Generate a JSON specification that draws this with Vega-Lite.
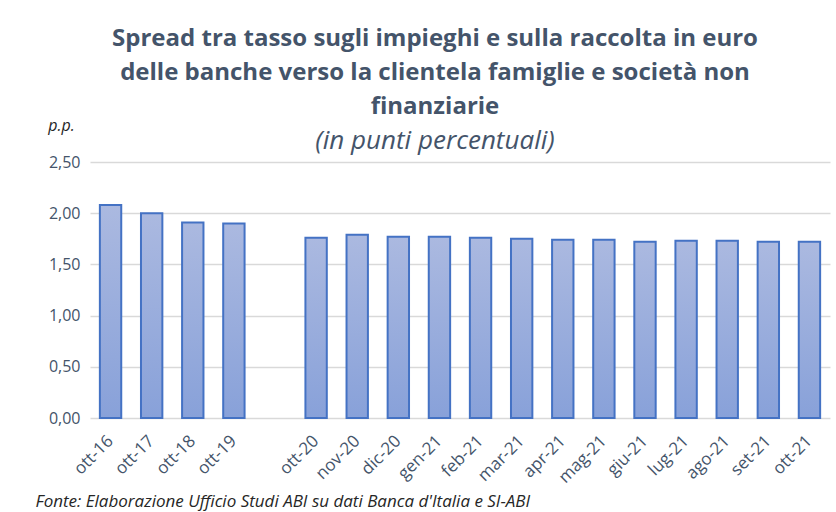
{
  "$schema": "https://vega.github.io/schema/vega-lite/v6.json",
  "width": 740,
  "height": 256,
  "autosize": {"type": "none"},
  "padding": {"left": 90, "top": 162, "right": 6, "bottom": 94},
  "background": "white",
  "config": {
    "locale": {"number": {"decimal": ",", "thousands": ".", "grouping": [3], "currency": ["€", ""]}},
    "view": {"stroke": null},
    "font": "Open Sans"
  },
  "title": {
    "text": ["Spread tra tasso sugli impieghi e sulla raccolta in euro", "delle banche verso la clientela famiglie e società non", "finanziarie"],
    "subtitle": "(in punti percentuali)",
    "anchor": "middle",
    "dx": -25,
    "font": "Open Sans",
    "fontSize": 24,
    "fontWeight": "bold",
    "color": "#44546a",
    "lineHeight": 34,
    "subtitleFont": "Open Sans",
    "subtitleFontSize": 26,
    "subtitleFontStyle": "italic",
    "subtitleColor": "#44546a",
    "subtitlePadding": 9,
    "offset": -37
  },
  "data": {
    "values": [
      {"mese": "ott-16", "valore": 2.08},
      {"mese": "ott-17", "valore": 2.00},
      {"mese": "ott-18", "valore": 1.91},
      {"mese": "ott-19", "valore": 1.90},
      {"mese": "ott-20", "valore": 1.76},
      {"mese": "nov-20", "valore": 1.79},
      {"mese": "dic-20", "valore": 1.77},
      {"mese": "gen-21", "valore": 1.77},
      {"mese": "feb-21", "valore": 1.76},
      {"mese": "mar-21", "valore": 1.75},
      {"mese": "apr-21", "valore": 1.74},
      {"mese": "mag-21", "valore": 1.74},
      {"mese": "giu-21", "valore": 1.72},
      {"mese": "lug-21", "valore": 1.73},
      {"mese": "ago-21", "valore": 1.73},
      {"mese": "set-21", "valore": 1.72},
      {"mese": "ott-21", "valore": 1.72}
    ]
  },
  "mark": {
    "type": "bar",
    "stroke": "#4472c4",
    "strokeWidth": 2,
    "color": {
      "gradient": "linear",
      "x1": 0, "y1": 0, "x2": 0, "y2": 1,
      "stops": [
        {"offset": 0, "color": "#abb9e0"},
        {"offset": 1, "color": "#88a1d9"}
      ]
    }
  },
  "encoding": {
    "x": {
      "field": "mese",
      "type": "nominal",
      "scale": {
        "domain": ["ott-16", "ott-17", "ott-18", "ott-19", "", "ott-20", "nov-20", "dic-20", "gen-21", "feb-21", "mar-21", "apr-21", "mag-21", "giu-21", "lug-21", "ago-21", "set-21", "ott-21"],
        "paddingInner": 0.48,
        "paddingOuter": 0.24
      },
      "axis": {
        "title": "Fonte: Elaborazione Ufficio Studi ABI su dati Banca d'Italia e SI-ABI",
        "titleFont": "Open Sans",
        "titleFontSize": 17,
        "titleFontStyle": "italic",
        "titleFontWeight": "normal",
        "titleColor": "#262626",
        "titleAnchor": "start",
        "titleAlign": "left",
        "titleBaseline": "middle",
        "titleX": -55,
        "titleY": 83,
        "labelAngle": -45,
        "labelAlign": "right",
        "labelBaseline": "middle",
        "labelFont": "Open Sans",
        "labelFontSize": 17,
        "labelColor": "#44546a",
        "labelPadding": 20,
        "ticks": false,
        "domain": false
      }
    },
    "y": {
      "field": "valore",
      "type": "quantitative",
      "scale": {"domain": [0, 2.5], "nice": false},
      "axis": {
        "title": "p.p.",
        "titleAngle": 0,
        "titleFont": "Open Sans",
        "titleFontSize": 16,
        "titleFontStyle": "italic",
        "titleFontWeight": "normal",
        "titleColor": "#262626",
        "titleX": -29,
        "titleY": -37,
        "titleAlign": "center",
        "titleBaseline": "middle",
        "values": [0, 0.5, 1, 1.5, 2, 2.5],
        "format": ".2f",
        "labelFont": "Open Sans",
        "labelFontSize": 16,
        "labelColor": "#44546a",
        "labelPadding": 10,
        "ticks": false,
        "domain": false,
        "gridColor": "#d9d9d9",
        "gridWidth": 1.5
      }
    }
  }
}
